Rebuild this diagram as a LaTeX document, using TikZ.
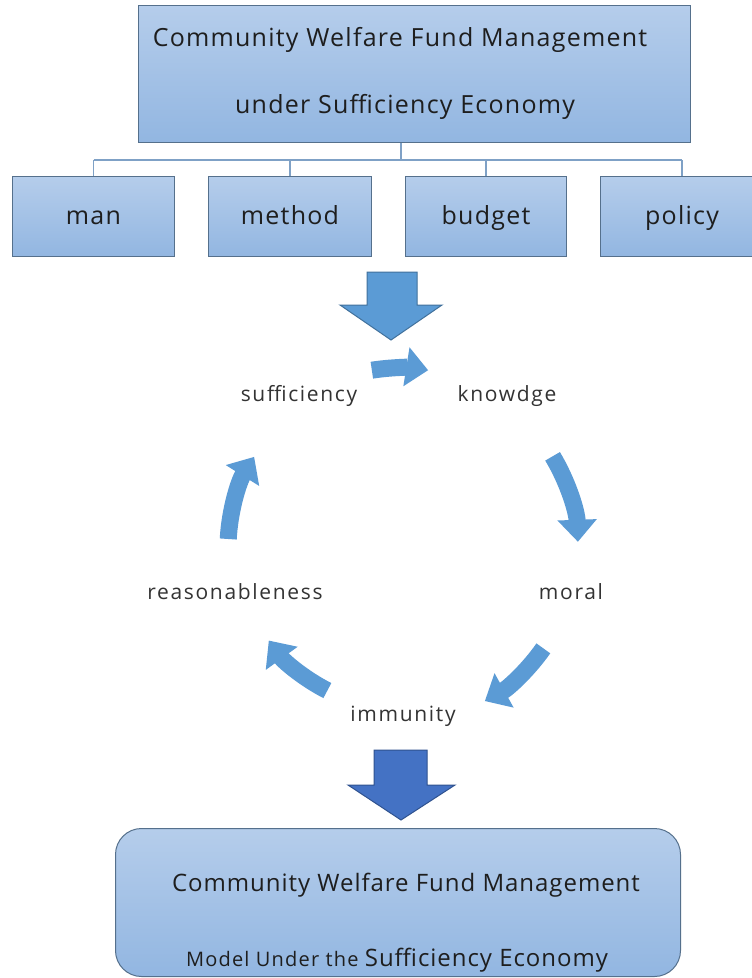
\documentclass[tikz,border=0pt]{standalone}
\usepackage{fontspec}
\setmainfont{Open Sans}
\newfontfamily\spacedA[LetterSpace=5]{Open Sans}
\newfontfamily\spacedB[LetterSpace=8]{Open Sans}
\newfontfamily\spacedC[LetterSpace=4]{Open Sans}
\newfontfamily\spacedD[LetterSpace=6]{Open Sans}
\usetikzlibrary{arrows.meta}
\definecolor{boxtop}{HTML}{B5CDEB}
\definecolor{boxbot}{HTML}{92B6E1}
\definecolor{boxline}{HTML}{55708C}
\definecolor{cyc}{HTML}{5B9BD5}
\definecolor{arrA}{HTML}{5B9BD5}
\definecolor{arrAl}{HTML}{41719C}
\definecolor{arrB}{HTML}{4472C4}
\definecolor{arrBl}{HTML}{2F528F}
\definecolor{conn}{HTML}{7FA1C6}
\definecolor{txt}{HTML}{1E1E1E}
\definecolor{ctxt}{HTML}{333333}
\begin{document}
\begin{tikzpicture}[x=1pt,y=-1pt,
  gbox/.style={draw=boxline, line width=1pt, top color=boxtop, bottom color=boxbot,
    inner sep=0pt, anchor=north west, text=txt},
  sublab/.style={text height=20pt, text depth=4pt, font=\spacedA\fontsize{25}{30}\selectfont},
  subbox/.style={gbox, minimum height=80pt, sublab},
  conline/.style={draw=conn, line width=1.8pt},
  cyclab/.style={text=ctxt, text height=15pt, text depth=5pt, font=\spacedB\fontsize{21}{25}\selectfont},
  cycarrow/.style={draw=cyc, line width=17pt, -{Triangle[width=38pt,length=22pt]}},
  blockA/.style={fill=arrA, draw=arrAl, line width=1pt, line join=miter},
  blockB/.style={fill=arrB, draw=arrBl, line width=1pt, line join=miter}]
\useasboundingbox (0,0) rectangle (752,978);
\fill[white] (0,0) rectangle (752,978);

% top box
\node[gbox, minimum width=552pt, minimum height=137pt] (top) at (138,5) {};
\node[text=txt, font=\spacedA\fontsize{25}{30}\selectfont] (t1) at (400,40) {Community Welfare Fund Management};
\node[text=txt, font=\spacedA\fontsize{25}{30}\selectfont] (t2) at (405,107) {under Sufficiency Economy};

% sub boxes
\node[subbox, minimum width=162pt] (man) at (12,176) {man};
\node[subbox, minimum width=163pt] (method) at (208,176) {method};
\node[subbox, minimum width=161pt] (budget) at (405,176) {budget};
\node[subbox, minimum width=160pt] (policy) at (600,176) {};
\node[text=txt, sublab] (policyt) at (682,216) {policy};

% connectors
\coordinate (hub) at (401,160);
\draw[conline] (top.south -| hub) -- (hub);
\draw[conline] (man.north |- hub) -- (policyt.north |- hub);
\draw[conline] (man.north |- hub) -- (man.north);
\draw[conline] (method.north |- hub) -- (method.north);
\draw[conline] (budget.north |- hub) -- (budget.north);
\draw[conline] (policyt.north |- hub) -- (policyt.north |- policy.north);

% first block arrow
\draw[blockA] (367,272) -- (417,272) -- (417,305) -- (442,305) -- (391,340) -- (340,305) -- (367,305) -- cycle;

% cycle
\coordinate (c) at (400,548);
\draw[cycarrow] (c) ++(261:180) arc[start angle=261, end angle=279, radius=180];
\draw[cycarrow] (c) ++(329:178) arc[start angle=329, end angle=358, radius=178];
\draw[cycarrow] (c) ++(35:175) arc[start angle=35, end angle=61, radius=175];
\draw[cycarrow] (c) ++(117:160) arc[start angle=117, end angle=144, radius=165];
\draw[cycarrow] (c) ++(183:172) arc[start angle=183, end angle=212, radius=172];

\node[cyclab] (suff) at (299,396) {sufficiency};
\node[cyclab] (know) at (507,396) {knowdge};
\node[cyclab] (moral) at (571,594) {moral};
\node[cyclab] (reas) at (235,594) {reasonableness};
\node[cyclab] (imm) at (403,716) {immunity};

% second block arrow
\draw[blockB] (374,750) -- (427,750) -- (427,785) -- (455,785) -- (401,820) -- (348,785) -- (374,785) -- cycle;

% bottom box
\node[gbox, rounded corners=26pt, minimum width=565pt, minimum height=148pt] (bot) at (115,828) {};
\node[text=txt, font=\spacedC\fontsize{24}{29}\selectfont] (b1) at (406,885) {Community Welfare Fund Management};
\node[text=txt, anchor=base] (b2) at (397,966) {\spacedD\fontsize{20}{24}\selectfont Model Under the \spacedC\fontsize{24}{29}\selectfont Sufficiency Economy};
\end{tikzpicture}
\end{document}
